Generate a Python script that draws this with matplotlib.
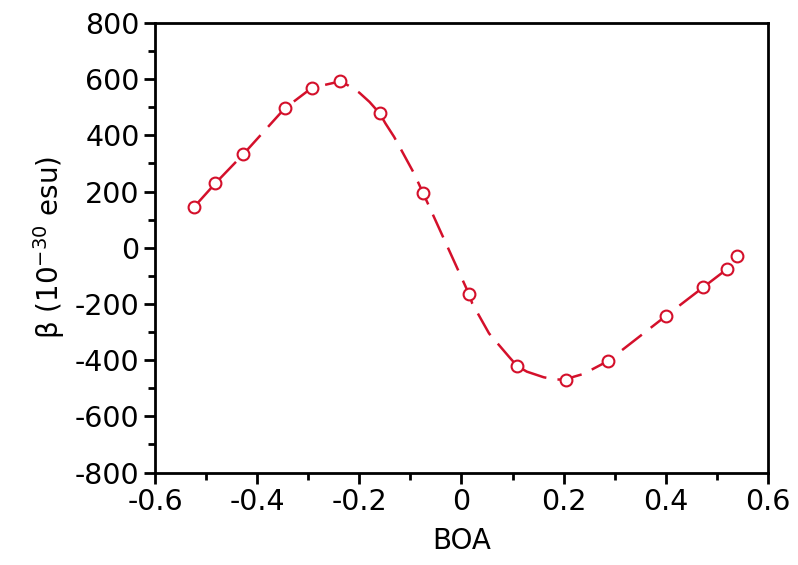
import numpy as np
import matplotlib.pyplot as plt
from matplotlib.ticker import MultipleLocator

boa = [-0.523, -0.482, -0.427, -0.346, -0.293, -0.238, -0.160, -0.075,
       0.015, 0.109, 0.205, 0.287, 0.400, 0.473, 0.519, 0.540]
beta = [146, 229, 333, 496, 569, 592, 478, 194,
        -166, -421, -469, -403, -243, -141, -77, -30]

# dashed guide curve, also
curve_x = [-0.523, -0.482, -0.427, -0.346, -0.293, -0.238, -0.223, -0.200,
           -0.180, -0.160, -0.149, -0.132, -0.122, -0.093, -0.075, -0.063,
           0.015, 0.021, 0.041, 0.054, 0.093, 0.109, 0.128, 0.161, 0.185,
           0.205, 0.220, 0.239, 0.287, 0.400, 0.473, 0.519, 0.540]
curve_y = [146, 229, 333, 496, 569, 592, 579, 552,
           519, 478, 443, 395, 362, 265, 194, 146,
           -166, -198, -263, -305, -388, -421, -441, -461, -469,
           -469, -459, -449, -403, -243, -141, -77, -30]

red = '#d4102b'

fig = plt.figure(figsize=(7.98, 5.65), dpi=100)
ax = fig.add_axes([0.1942, 0.1637, 0.9624 - 0.1942, 0.9593 - 0.1637])

ax.plot(curve_x, curve_y, color=red, lw=1.8, dashes=(10, 4.5))
ax.plot(boa, beta, ls='none', marker='o', ms=8.5, mfc='white', mec=red, mew=1.5)

ax.set_xlim(-0.6, 0.6)
ax.set_ylim(-800, 800)
ax.xaxis.set_minor_locator(MultipleLocator(0.1))
ax.yaxis.set_minor_locator(MultipleLocator(100))
ax.set_xticks([-0.6, -0.4, -0.2, 0, 0.2, 0.4, 0.6])
ax.set_xticklabels(['-0.6', '-0.4', '-0.2', '0', '0.2', '0.4', '0.6'])
ax.set_yticks(range(-800, 801, 200))
ax.set_yticklabels([str(v) for v in range(-800, 801, 200)])

for s in ax.spines.values():
    s.set_linewidth(2)
ax.tick_params(which='major', direction='out', length=8, width=2, labelsize=20.5, pad=3)
ax.tick_params(which='minor', direction='out', length=5, width=2)

ax.set_xlabel('BOA', fontsize=20, labelpad=8)
ax.set_ylabel(r'β (10$^{-30}$ esu)', fontsize=20, labelpad=6)

fig.savefig('out.png', dpi=100)
